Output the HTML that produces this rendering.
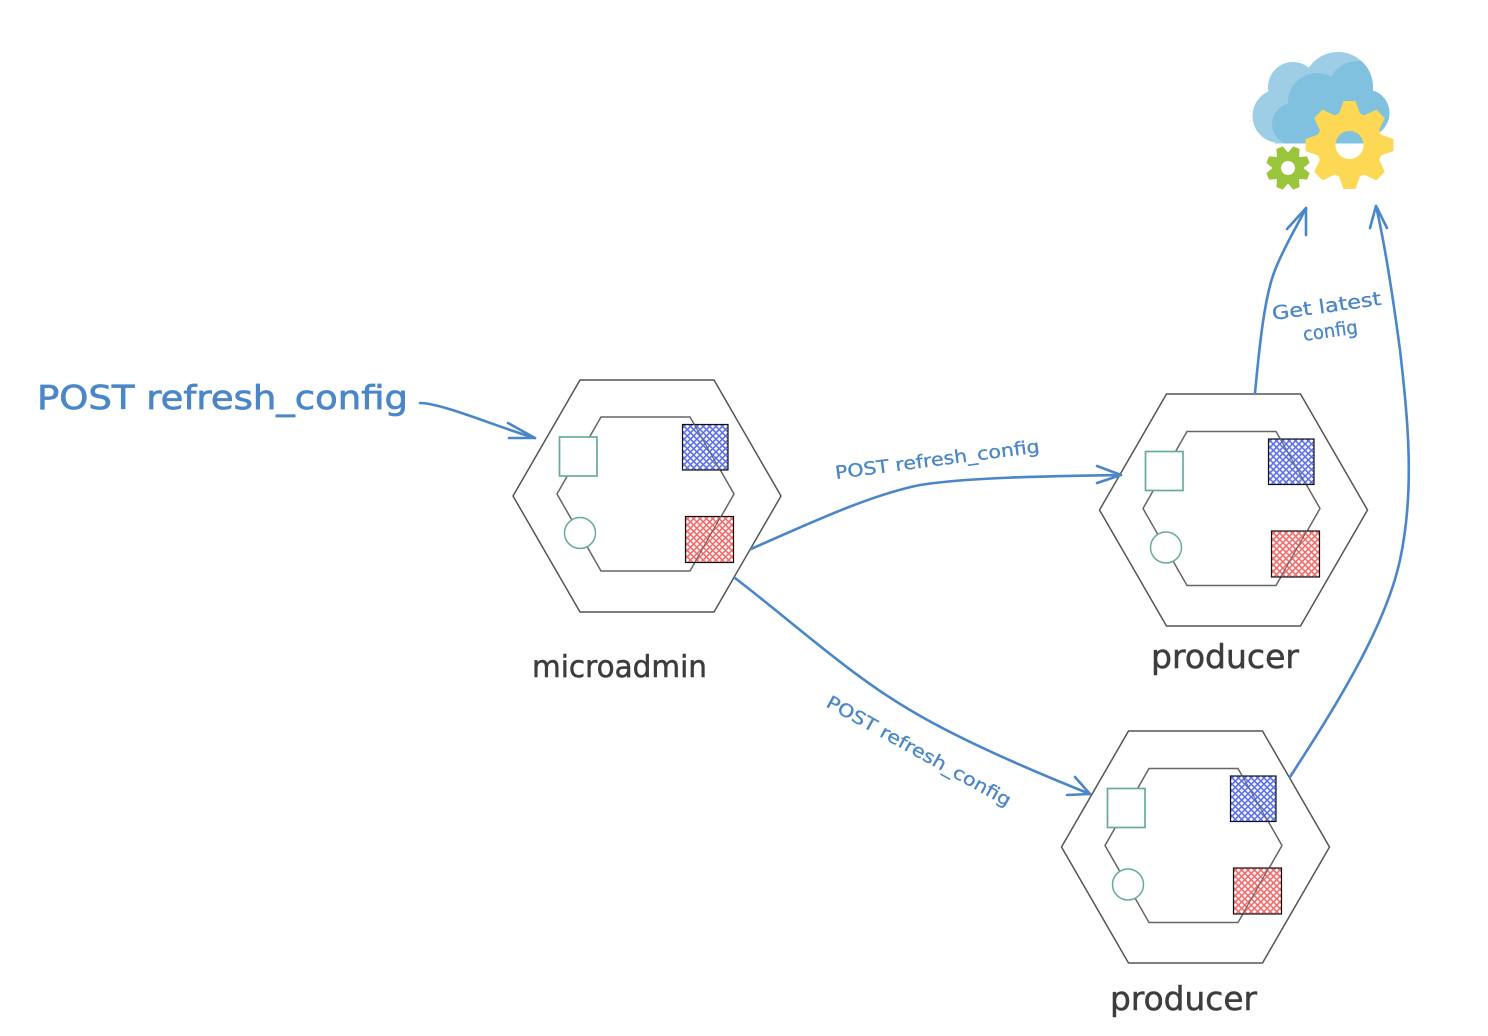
<!DOCTYPE html>
<html><head><meta charset="utf-8"><style>html,body{margin:0;padding:0;background:#fff}svg{display:block}text{font-family:"DejaVu Sans","Liberation Sans",sans-serif}</style></head>
<body>
<svg xmlns="http://www.w3.org/2000/svg" width="1488" height="1036" viewBox="0 0 1488 1036">
<defs>
<pattern id="pb" width="4.500" height="4.500" patternUnits="userSpaceOnUse" patternTransform="rotate(45)"><rect width="4.500" height="4.500" fill="#f4f5ff"/><path d="M0 2.250H4.500M2.250 0V4.500" stroke="#5a6fe8" stroke-width="1.500"/></pattern>
<pattern id="pr" width="4.500" height="4.500" patternUnits="userSpaceOnUse" patternTransform="rotate(45)"><rect width="4.500" height="4.500" fill="#fff4f4"/><path d="M0 2.250H4.500M2.250 0V4.500" stroke="#f06a6a" stroke-width="1.500"/></pattern>
<clipPath id="cc"><rect x="1240" y="40" width="160" height="103.500"/></clipPath>
<clipPath id="cu">
<circle cx="1279.500" cy="116" r="27"/><circle cx="1293" cy="87" r="25"/><circle cx="1338" cy="87" r="35"/><circle cx="1366" cy="113" r="23.500"/><rect x="1275" y="100" width="95" height="44"/>
</clipPath>
<polygon id="outer" points="580,380 714,380 781,496 714,612 580,612 513,496" fill="none" stroke="#555" stroke-width="1.500"/>
<g id="inner">
<polygon points="601,417 690,417 734,494 690,571 601,571 557,494" fill="none" stroke="#666" stroke-width="1.500"/>
<rect x="559.500" y="437" width="37.500" height="39" fill="#fff" stroke="#67ab9f" stroke-width="1.700"/>
<circle cx="580" cy="533" r="15.500" fill="#fff" stroke="#67ab9f" stroke-width="1.500"/>
<rect x="682.500" y="424.500" width="45.500" height="45.500" fill="url(#pb)" stroke="#111" stroke-width="1.200"/>
<rect x="685.500" y="516.500" width="48" height="46" fill="url(#pr)" stroke="#111" stroke-width="1.200"/>
<path d="M694 424L720 470" stroke="#666" stroke-width="1.200" fill="none"/>
<path d="M721 516L695 562" stroke="#666" stroke-width="1.200" fill="none"/>
</g>
<polygon id="ty" points="-11,-30 11,-30 6,-44 -6,-44" fill="#fdd855"/>
<polygon id="tg" points="-6,-14 6,-14 3.500,-22 -3.500,-22" fill="#9bc53d"/>
</defs>
<rect width="1488" height="1036" fill="#fff"/>

<use href="#outer"/>
<use href="#inner"/>
<use href="#outer" transform="translate(586.500,14)"/>
<use href="#inner" transform="translate(586,14.500)"/>
<use href="#outer" transform="translate(548.500,351)"/>
<use href="#inner" transform="translate(548,351.500)"/>

<g clip-path="url(#cc)">
<g fill="#9dcee5">
<circle cx="1279.500" cy="116" r="27"/><circle cx="1293" cy="87" r="25"/><circle cx="1338" cy="87" r="35"/><circle cx="1366" cy="113" r="23.500"/>
<rect x="1275" y="100" width="95" height="44"/>
</g>
<g fill="#80c1e0" clip-path="url(#cu)">
<circle cx="1293" cy="124" r="21"/><circle cx="1317" cy="102" r="29"/><circle cx="1358" cy="92" r="31"/><circle cx="1366" cy="113" r="23.500"/>
<rect x="1295" y="105" width="90" height="40"/>
</g>
</g>
<g transform="translate(1349.500,145)">
<circle r="23.500" fill="none" stroke="#fdd855" stroke-width="19"/>
<use href="#ty"/><use href="#ty" transform="rotate(45)"/><use href="#ty" transform="rotate(90)"/><use href="#ty" transform="rotate(135)"/><use href="#ty" transform="rotate(180)"/><use href="#ty" transform="rotate(225)"/><use href="#ty" transform="rotate(270)"/><use href="#ty" transform="rotate(315)"/>
</g>
<g transform="translate(1288,168)">
<circle r="11.500" fill="none" stroke="#9bc53d" stroke-width="9"/>
<use href="#tg" transform="rotate(22.500)"/><use href="#tg" transform="rotate(67.500)"/><use href="#tg" transform="rotate(112.500)"/><use href="#tg" transform="rotate(157.500)"/><use href="#tg" transform="rotate(202.500)"/><use href="#tg" transform="rotate(247.500)"/><use href="#tg" transform="rotate(292.500)"/><use href="#tg" transform="rotate(337.500)"/>
</g>

<g fill="none" stroke="#4a86c8" stroke-width="2.600" stroke-linecap="round" stroke-linejoin="round">
<path d="M420 403C442 403 500 428 535 438"/>
<path d="M508 423L535 438L509 438"/>
<path d="M751 549C810 523 870 495 920 485C970 477 1060 476 1121 475"/>
<path d="M1097 466L1121 475L1097 483"/>
<path d="M735 578C790 620 850 675 910 710C960 740 1030 770 1090 794"/>
<path d="M1067 795L1090 794L1075 777"/>
<path d="M1255 393C1260 340 1265 295 1275 270C1285 245 1296 228 1306 208"/>
<path d="M1287 229L1306 208L1306 235"/>
<path d="M1290 777C1330 715 1385 630 1400 560C1415 490 1408 420 1400 350C1392 290 1385 245 1376 206"/>
<path d="M1370 228L1376 206L1387 228"/>
</g>

<g fill="#4a86c8" stroke="#4a86c8">
<text x="37" y="409" font-size="33" stroke-width="0.700" textLength="371" lengthAdjust="spacingAndGlyphs">POST refresh_config</text>
<text transform="translate(836,479) rotate(-7.500)" font-size="18" stroke-width="0.300" textLength="206" lengthAdjust="spacingAndGlyphs">POST refresh_config</text>
<text transform="translate(825,706) rotate(29)" font-size="18" stroke-width="0.300" textLength="208" lengthAdjust="spacingAndGlyphs">POST refresh_config</text>
<text transform="translate(1273,320) rotate(-8)" font-size="19" stroke-width="0.300" textLength="110" lengthAdjust="spacingAndGlyphs">Get latest</text>
<text transform="translate(1304,341) rotate(-8)" font-size="19" stroke-width="0.300" textLength="55" lengthAdjust="spacingAndGlyphs">config</text>
</g>
<g fill="#3d3d3d" stroke="#3d3d3d">
<text x="532" y="677" font-size="30" stroke-width="0.500" textLength="175" lengthAdjust="spacingAndGlyphs">microadmin</text>
<text x="1151" y="668" font-size="33" stroke-width="0.500" textLength="148" lengthAdjust="spacingAndGlyphs">producer</text>
<text x="1110" y="1010" font-size="33" stroke-width="0.500" textLength="147" lengthAdjust="spacingAndGlyphs">producer</text>
</g>
</svg>
</body></html>
